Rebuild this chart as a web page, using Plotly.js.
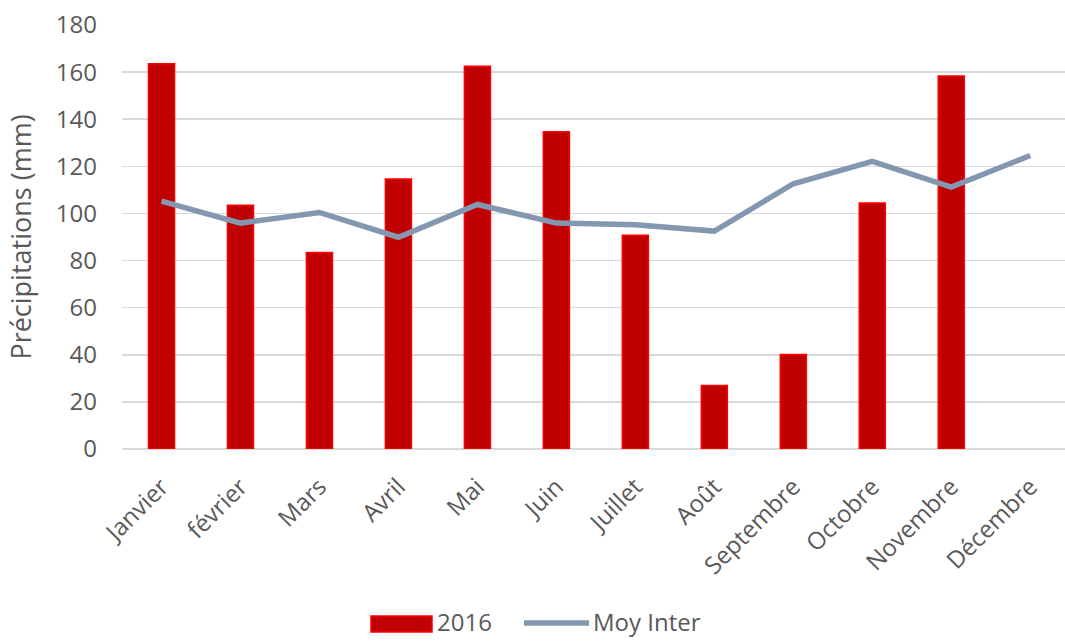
<!DOCTYPE html>
<html>
<head>
<meta charset="utf-8">
<script src="https://cdn.plot.ly/plotly-3.0.1.min.js"></script>
<style>html,body{margin:0;padding:0;background:#fff;}#chart{width:1065px;height:641px;}</style>
</head>
<body>
<div id="chart"></div>
<script>
const months = ["Janvier","février","Mars","Avril","Mai","Juin","Juillet","Août","Septembre","Octobre","Novembre","Décembre"];
const precip2016 = [163.6, 103.5, 83.4, 114.6, 162.5, 134.7, 90.7, 27.0, 40.1, 104.4, 158.3, null];
const moyInter = [105.2, 95.9, 100.4, 89.9, 103.8, 95.9, 95.2, 92.5, 112.6, 122.1, 111.2, 124.6];
const yTicks = [0, 20, 40, 60, 80, 100, 120, 140, 160, 180];
const seriesNames = ["2016", "Moy Inter"];

const font = "Open Sans, sans-serif";
const grey = "#595959";
const barColor = "#C00000", barLine = "#FF0000", lineColor = "#8497B0";

// plot area spans x 122..1065 px, y 25..449 px; helpers convert pixels to paper coords
const L = 122, W = 943, T = 25, PH = 424;
const px = v => (v - L) / W;
const paperY = pix => (T + PH - pix) / PH;

const traces = [
  {
    type: "bar", name: seriesNames[0], x: months, y: precip2016,
    width: 0.33,
    marker: {color: barColor, line: {color: barLine, width: 1.5}},
    hoverinfo: "skip", showlegend: false
  },
  {
    type: "scatter", mode: "lines", name: seriesNames[1], x: months, y: moyInter,
    line: {color: lineColor, width: 5.5},
    hoverinfo: "skip", showlegend: false
  }
];

const layout = {
  width: 1065, height: 641,
  margin: {l: 122, r: 0, t: 25, b: 192},
  paper_bgcolor: "#fff", plot_bgcolor: "#fff",
  font: {family: font, color: grey, size: 24},
  showlegend: false,
  xaxis: {
    type: "category", range: [-0.5, 11.44],
    tickangle: -45, tickfont: {family: font, size: 24, color: grey},
    showgrid: false, showline: false, ticks: "",
    ticklabelstandoff: 18
  },
  yaxis: {
    range: [0, 180], tickvals: yTicks, ticktext: yTicks.map(String),
    showgrid: true, gridcolor: "#D9D9D9", gridwidth: 1.5,
    zeroline: true, zerolinecolor: "#D9D9D9", zerolinewidth: 1.5,
    showline: false, ticks: "",
    tickfont: {family: font, size: 24, color: grey},
    ticklabelstandoff: 24,
    title: {text: "Précipitations (mm)", font: {family: font, size: 27, color: grey}, standoff: 16}
  },
  bargap: 0.67,
  shapes: [
    {type: "rect", xref: "paper", yref: "paper",
     x0: px(371), x1: px(432), y0: paperY(632), y1: paperY(616),
     fillcolor: barColor, line: {color: barLine, width: 1.5}},
    {type: "line", xref: "paper", yref: "paper",
     x0: px(524), x1: px(589), y0: paperY(623), y1: paperY(623),
     line: {color: lineColor, width: 5.5}}
  ],
  annotations: [
    {xref: "paper", yref: "paper", x: px(436), y: paperY(621), xanchor: "left", yanchor: "middle",
     text: seriesNames[0], showarrow: false, borderpad: 0, font: {family: font, size: 24, color: grey}},
    {xref: "paper", yref: "paper", x: px(592), y: paperY(621), xanchor: "left", yanchor: "middle",
     text: seriesNames[1], showarrow: false, borderpad: 0, font: {family: font, size: 24, color: grey}}
  ]
};

Plotly.newPlot("chart", traces, layout, {displayModeBar: false, staticPlot: true});
</script>
</body>
</html>
